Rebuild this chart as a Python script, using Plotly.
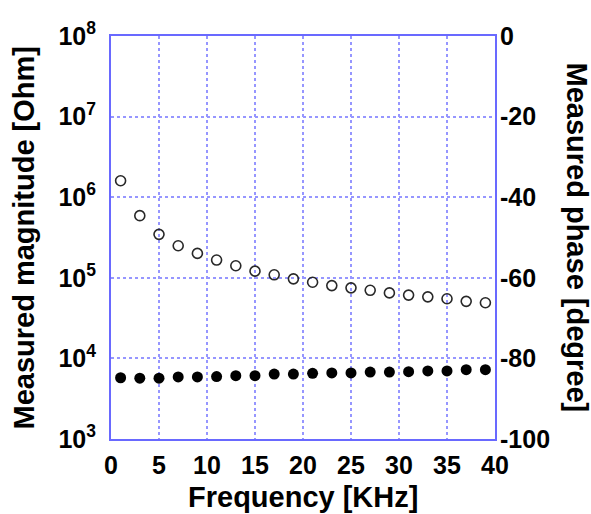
import plotly.graph_objects as go

freq = [1, 3, 5, 7, 9, 11, 13, 15, 17, 19, 21, 23, 25, 27, 29, 31, 33, 35, 37, 39]
magnitude = [1.6e6, 5.9e5, 3.46e5, 2.5e5, 2.01e5, 1.66e5, 1.41e5, 1.21e5, 1.09e5, 9.7e4,
             8.8e4, 8.0e4, 7.5e4, 7.0e4, 6.5e4, 6.1e4, 5.8e4, 5.5e4, 5.1e4, 4.9e4]
phase = [-84.8, -84.9, -84.9, -84.6, -84.6, -84.5, -84.3, -84.3, -83.9, -83.9,
         -83.7, -83.6, -83.6, -83.4, -83.4, -83.3, -83.1, -83.1, -82.8, -82.8]

mag_tickvals = [1e3, 1e4, 1e5, 1e6, 1e7, 1e8]
mag_ticktext = ["10<sup>3</sup>", "10<sup>4</sup>", "10<sup>5</sup>",
                "10<sup>6</sup>", "10<sup>7</sup>", "10<sup>8</sup>"]
phase_tickvals = [-100, -80, -60, -40, -20, 0]
phase_ticktext = ["-100", "-80", "-60", "-40", "-20", "0"]
freq_tickvals = [0, 5, 10, 15, 20, 25, 30, 35, 40]

FONT = "Liberation Sans, Arial, sans-serif"
BLUE = "rgb(105,105,255)"
GRID = "rgb(150,150,255)"

fig = go.Figure()
fig.add_trace(go.Scatter(
    x=freq, y=magnitude, mode="markers", yaxis="y",
    marker=dict(symbol="circle-open", size=10, color="rgb(40,40,40)",
                line=dict(width=1.6, color="rgb(40,40,40)")),
    showlegend=False))
fig.add_trace(go.Scatter(
    x=freq, y=phase, mode="markers", yaxis="y2",
    marker=dict(symbol="circle", size=11, color="black"),
    showlegend=False))

tickfont = dict(family=FONT, size=25, color="black", weight="bold")
titlefont = dict(family=FONT, size=29, color="black", weight="bold")

fig.update_layout(
    width=591, height=514,
    margin=dict(l=111, r=96, t=36, b=75),
    plot_bgcolor="white", paper_bgcolor="white",
    xaxis=dict(range=[0, 40], tickvals=freq_tickvals, tickfont=tickfont,
               showgrid=True, gridcolor=GRID, griddash="dot", gridwidth=1.5,
               showline=True, linecolor=BLUE, linewidth=2, mirror=True,
               zeroline=False, ticks="", ticklabelstandoff=3, automargin=False),
    yaxis=dict(type="log", range=[3, 8], tickvals=mag_tickvals, ticktext=mag_ticktext,
               tickfont=tickfont, showgrid=True, gridcolor=GRID, griddash="dot",
               gridwidth=1.5, showline=True, linecolor=BLUE, linewidth=2, mirror=True,
               zeroline=False, ticks="", ticklabelstandoff=8, automargin=False),
    yaxis2=dict(range=[-100, 0], tickvals=phase_tickvals, ticktext=phase_ticktext,
                overlaying="y", side="right",
                tickfont=tickfont, showgrid=False, zeroline=False, showline=False,
                ticks="", ticklabelstandoff=4, automargin=False),
    annotations=[
        dict(text="Frequency [KHz]", x=0.5, xref="paper", y=0, yref="paper",
             xanchor="center", yanchor="middle",
             yshift=-58, showarrow=False, font=titlefont),
        dict(text="Measured magnitude [Ohm]", textangle=-90,
             x=0, xref="paper", xshift=-88, y=0.5, yref="paper",
             xanchor="center", yanchor="middle",
             showarrow=False, font=titlefont),
        dict(text="Measured phase [degree]", textangle=90,
             x=1.0, xref="paper", xshift=82, y=0.5, yref="paper",
             xanchor="center", yanchor="middle",
             showarrow=False, font=titlefont),
    ],
)

fig.write_html("out.html", config={"displayModeBar": False},
               post_script="document.body.style.margin='0';document.body.style.overflow='hidden';")
